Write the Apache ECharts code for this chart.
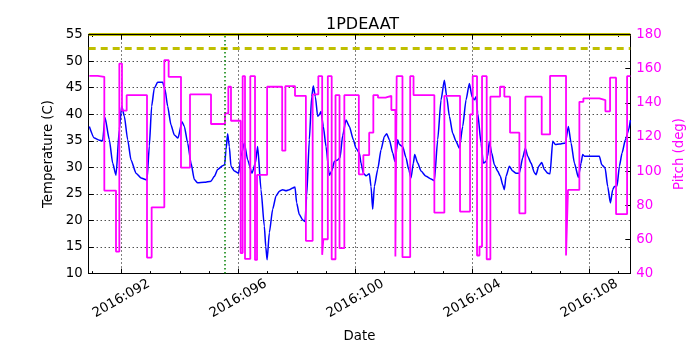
<!DOCTYPE html>
<html><head><meta charset="utf-8">
<script src="https://cdn.jsdelivr.net/npm/echarts@6/dist/echarts.min.js"></script>
<style>html,body{margin:0;padding:0;background:#fff}#c{width:700px;height:350px}</style>
</head><body><div id="c"></div>
<script>
const titleText = '1PDEAAT';
const tempDay = [90.907,91.078,91.249,91.363,91.443,91.591,91.705,91.819,91.933,92.013,92.104,92.218,92.332,92.503,92.674,92.879,92.958,93.038,93.129,93.243,93.414,93.494,93.585,93.698,93.812,93.938,94.075,94.155,94.269,94.383,94.497,94.611,94.839,95.067,95.181,95.294,95.465,95.534,95.579,95.636,95.693,95.750,95.864,96.012,96.092,96.206,96.320,96.468,96.582,96.662,96.776,96.890,96.940,96.985,97.061,97.175,97.289,97.403,97.517,97.631,97.745,97.859,97.938,97.995,98.087,98.201,98.280,98.337,98.428,98.508,98.565,98.634,98.713,98.770,98.827,98.907,98.998,99.112,99.192,99.283,99.397,99.477,99.568,99.682,99.796,99.933,100.024,100.138,100.195,100.275,100.366,100.480,100.537,100.594,100.651,100.765,100.879,100.993,101.072,101.164,101.278,101.357,101.414,101.448,101.505,101.619,101.733,101.825,101.904,101.984,102.030,102.132,102.246,102.417,102.588,102.702,102.816,102.930,103.044,103.124,103.215,103.329,103.443,103.557,103.671,103.785,103.899,103.990,104.070,104.127,104.184,104.297,104.377,104.468,104.525,104.582,104.662,104.753,104.867,104.958,105.038,105.095,105.152,105.266,105.380,105.494,105.608,105.722,105.813,105.893,106.007,106.121,106.178,106.269,106.372,106.463,106.577,106.657,106.748,106.839,106.976,107.181,107.283,107.375,107.489,107.625,107.716,107.773,107.830,108.343,108.423,108.537,108.628,108.719,108.799,108.856,108.947,109.027,109.118,109.232,109.346,109.403];
const tempC = [37.7,35.5,35.1,35.0,39.4,35.2,30.8,28.5,37.1,41.6,39.6,35.2,31.4,28.9,28.0,27.6,34.0,41.5,44.9,46.0,46.0,44.7,41.5,38.0,36.1,35.5,38.6,37.7,34.6,30.8,27.7,27.1,27.2,27.4,28.3,29.6,30.3,30.5,33.3,36.3,33.9,30.2,29.3,28.9,32.1,34.6,31.4,28.9,30.8,33.9,25.8,18.9,15.0,12.6,17.7,22.1,24.6,25.5,25.8,25.6,25.8,26.1,26.3,23.3,21.1,20.1,19.8,24.6,35.2,43.3,45.3,43.3,39.6,39.9,40.5,37.7,33.9,28.5,29.3,31.1,31.4,31.8,36.0,38.9,37.7,35.2,33.6,32.7,30.8,28.9,28.4,28.8,26.4,22.1,26.4,29.6,33.3,35.8,36.3,35.2,32.7,31.1,33.3,35.2,34.3,33.9,31.8,29.6,28.0,30.8,32.4,30.8,29.3,28.3,27.8,27.5,35.2,42.7,46.4,43.3,39.6,36.4,34.9,33.6,37.7,42.7,45.8,43.3,42.7,43.3,40.2,34.6,30.8,31.1,32.1,34.9,32.7,30.5,29.3,28.3,26.7,25.8,28.3,30.2,29.3,28.9,28.9,31.8,33.6,32.1,30.8,29.0,28.6,30.2,30.9,29.6,28.9,28.8,34.9,34.3,34.4,34.6,37.7,34.6,30.8,28.1,30.8,32.4,32.1,32.1,30.5,29.9,26.4,23.3,25.8,26.4,26.5,30.2,32.7,35.2,37.1,38.9];
const pitchDay = [90.907,91.192,91.420,91.819,91.933,92.024,92.184,92.879,93.038,93.471,93.619,94.041,94.349,95.067,95.545,95.659,95.750,96.080,96.149,96.229,96.410,96.571,96.640,96.985,97.500,97.610,97.938,98.310,98.542,98.736,98.867,98.907,99.060,99.192,99.323,99.460,99.625,100.120,100.275,100.474,100.616,100.776,101.033,101.232,101.370,101.414,101.612,101.876,101.990,102.702,103.044,103.580,103.922,104.013,104.161,104.245,104.332,104.491,104.617,104.947,105.095,105.289,105.608,105.813,106.372,106.657,107.203,107.270,107.659,107.796,108.343,108.548,108.708,108.913,109.290,109.403];
const pitchDeg = [155.8,155.2,88.6,52.9,163.0,135.4,144.5,49.4,78.8,165.0,155.2,102.0,144.9,127.6,133.8,149.4,129.5,52.0,155.6,48.6,155.6,48.0,97.8,149.4,112.0,149.8,144.1,59.2,144.9,155.6,51.0,60.1,155.6,48.4,144.5,54.9,144.5,98.1,109.4,122.5,144.5,143.0,144.1,135.8,50.0,155.6,49.6,155.6,144.5,75.7,144.1,76.3,133.2,155.6,50.6,55.8,155.6,48.4,143.6,149.4,143.6,122.5,75.3,143.6,121.5,155.8,50.6,89.0,140.6,142.6,141.6,135.0,154.7,74.8,155.6,155.6];
const majorDays = [92, 96, 100, 104, 108];
const minorDays = [91,92,93,94,95,96,97,98,99,100,101,102,103,104,105,106,107,108,109];
const dayRange = [90.886, 109.40];
const tempRange = [10, 55, 5];
const pitchRange = [40, 180, 20];
const tempLimits = [52.5, 55];
const eventDay = 95.52;

const FONT = 'DejaVu Sans';
const chart = echarts.init(document.getElementById('c'), null, {renderer: 'canvas'});
const dayFmt = v => '2016:' + String(Math.round(v)).padStart(3, '0');
const dotted = {color: '#000', width: 1, type: [1, 3]};
function xAx(pos, custom, len, extra) {
  return Object.assign({
    type: 'value', position: pos, min: dayRange[0], max: dayRange[1],
    axisLine: {show: true, lineStyle: {color: '#000', width: 1}},
    axisTick: {show: true, inside: true, length: len, customValues: custom, lineStyle: {color: '#000'}},
    axisLabel: {show: false},
    splitLine: {show: false}
  }, extra || {});
}
chart.setOption({
  animation: false,
  backgroundColor: '#fff',
  textStyle: {fontFamily: FONT},
  title: {text: titleText, left: 321, top: 12, textStyle: {fontFamily: FONT, fontSize: 16, fontWeight: 'normal', color: '#000'}},
  grid: {left: 88.7, right: 69.7, top: 34.5, bottom: 76.4, containLabel: false},
  xAxis: [
    xAx('bottom', majorDays, 5, {
      axisLabel: {show: true, customValues: majorDays, formatter: dayFmt, rotate: 30, align: 'center', verticalAlign: 'middle', margin: 25, fontSize: 13.3, color: '#000', fontFamily: FONT},
      splitLine: {show: true, lineStyle: dotted},
      name: 'Date', nameLocation: 'middle', nameGap: 56,
      nameTextStyle: {fontSize: 13.3, color: '#000', fontFamily: FONT}
    }),
    xAx('top', majorDays, 5, {z: 10}),
    xAx('bottom', minorDays, 2.5, {axisLine: {show: false}}),
    xAx('top', minorDays, 2.5, {axisLine: {show: false}})
  ],
  yAxis: [
    {type: 'value', position: 'left', min: tempRange[0], max: tempRange[1], interval: tempRange[2],
     axisLine: {show: true, lineStyle: {color: '#000'}},
     axisTick: {show: true, inside: true, length: 5, lineStyle: {color: '#000'}},
     axisLabel: {fontSize: 13.3, color: '#000', margin: 6, fontFamily: FONT},
     splitLine: {show: true, lineStyle: dotted},
     name: 'Temperature (C)', nameLocation: 'middle', nameGap: 27, nameRotate: 90,
     nameTextStyle: {fontSize: 13.3, color: '#000', fontFamily: FONT}},
    {type: 'value', position: 'right', min: pitchRange[0], max: pitchRange[1], interval: pitchRange[2],
     axisLine: {show: true, lineStyle: {color: '#000'}},
     axisTick: {show: true, inside: true, length: 5, lineStyle: {color: '#000'}},
     axisLabel: {fontSize: 13.3, color: '#ff00ff', margin: 6, fontFamily: FONT},
     splitLine: {show: false},
     name: 'Pitch (deg)', nameLocation: 'middle', nameGap: 31, nameRotate: 90,
     nameTextStyle: {fontSize: 13.3, color: '#ff00ff', fontFamily: FONT}}
  ],
  series: [
    {type: 'line', name: 'Temperature', xAxisIndex: 0, yAxisIndex: 0,
     data: tempDay.map((d, i) => [d, tempC[i]]),
     showSymbol: false, symbol: 'none', smooth: 0.2, smoothMonotone: 'x',
     lineStyle: {color: '#0000ff', width: 1.5}, z: 2,
     markLine: {silent: true, symbol: 'none', label: {show: false}, animation: false,
       data: [
         {yAxis: tempLimits[0], lineStyle: {color: '#bfbf00', width: 3, type: [7, 5]}},
         {yAxis: tempLimits[1], lineStyle: {color: '#bfbf00', width: 3, type: 'solid'}},
         {xAxis: eventDay, lineStyle: {color: '#008000', width: 1.5, type: [1.5, 2.5]}}
       ]}},
    {type: 'line', name: 'Pitch', xAxisIndex: 0, yAxisIndex: 1,
     data: pitchDay.map((d, i) => [d, pitchDeg[i]]),
     step: 'end', showSymbol: false, symbol: 'none',
     lineStyle: {color: '#ff00ff', width: 1.8}, z: 3}
  ]
});
</script></body></html>
